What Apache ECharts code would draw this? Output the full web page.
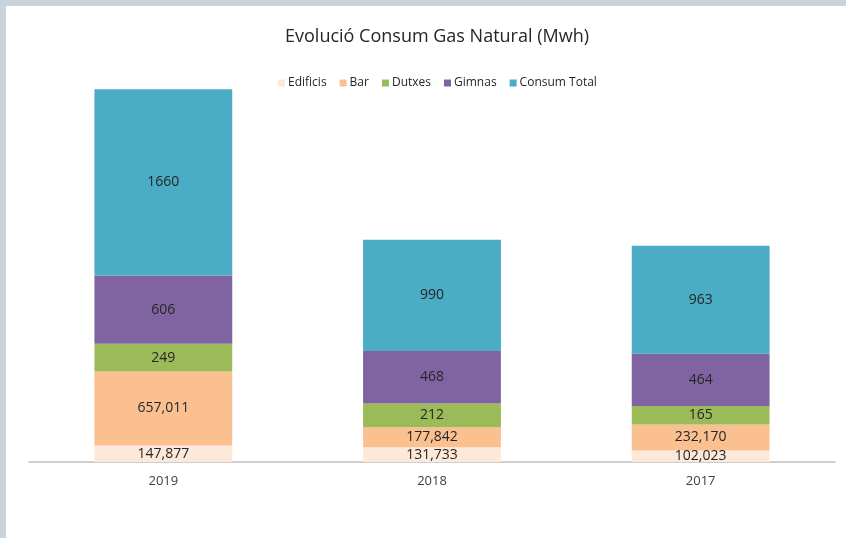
<!DOCTYPE html>
<html>
<head>
<meta charset="utf-8">
<script src="https://cdn.jsdelivr.net/npm/echarts@6/dist/echarts.min.js"></script>
<style>
  html, body { margin: 0; padding: 0; background: #c9d3da; }
  #chart { position: absolute; left: 6px; top: 6px; width: 840px; height: 532px; background: #fff; }
</style>
</head>
<body>
<div id="chart"></div>
<script>
var years = ['2019', '2018', '2017'];
var edificis = [147.877, 131.733, 102.023];
var bar = [657.011, 177.842, 232.170];
var dutxes = [249, 212, 165];
var gimnas = [606, 468, 464];
var consumTotal = [1660, 990, 963];

var font = '"Open Sans", sans-serif';

// valors amb decimals es mostren amb coma (format catala)
function fmt(p) {
    var v = p.value;
    if (Math.round(v) === v) return String(v);
    return v.toFixed(3).replace('.', ',');
}

function serie(name, data, color) {
    return {
        name: name,
        type: 'bar',
        stack: 'total',
        barWidth: '51.3%',
        data: data,
        itemStyle: { color: color },
        label: {
            show: true,
            position: 'inside',
            formatter: fmt,
            color: '#262626',
            fontSize: 14,
            fontFamily: font
        }
    };
}

var myChart = echarts.init(document.getElementById('chart'));
var option = {
    animation: false,
    title: {
        text: 'Evolució Consum Gas Natural (Mwh)',
        left: 426,
        top: 17,
        textAlign: 'center',
        textStyle: { fontSize: 18, fontWeight: 'normal', color: '#262626', fontFamily: font }
    },
    legend: {
        top: 66,
        left: 267,
        itemWidth: 7,
        itemHeight: 7,
        itemGap: 13,
        icon: 'rect',
        textStyle: { fontSize: 12, color: '#262626', fontFamily: font, padding: [0, 0, 0, -2] },
        data: ['Edificis', 'Bar', 'Dutxes', 'Gimnas', 'Consum Total']
    },
    grid: { left: 23, right: 11, top: 63, bottom: 76 },
    xAxis: {
        type: 'category',
        data: years,
        axisTick: { show: false },
        axisLine: { lineStyle: { color: '#bfbfbf', width: 1.5 } },
        axisLabel: { margin: 13, fontSize: 13, color: '#404040', fontFamily: font }
    },
    yAxis: {
        type: 'value',
        min: 0,
        max: 3500,
        show: false,
        splitLine: { show: false }
    },
    series: [
        serie('Edificis', edificis, '#fde9d9'),
        serie('Bar', bar, '#fac090'),
        serie('Dutxes', dutxes, '#9bbb59'),
        serie('Gimnas', gimnas, '#8064a2'),
        serie('Consum Total', consumTotal, '#4bacc6')
    ]
};
myChart.setOption(option);
</script>
</body>
</html>
